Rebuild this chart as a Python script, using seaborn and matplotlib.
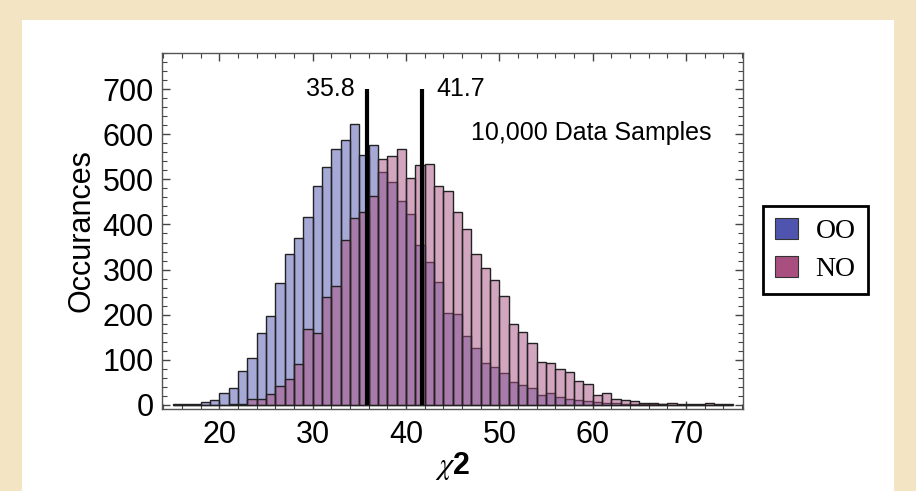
import numpy as np
import pandas as pd
import seaborn as sns
from matplotlib import pyplot as plt
from matplotlib.patches import Patch, Rectangle
from matplotlib.ticker import MultipleLocator

# chi^2 histogram, 10,000 samples per hypothesis, unit-width bins from 15 to 75
bin_starts = list(range(15, 75))

oo_counts = [1, 2, 1, 7, 10, 27, 37, 76, 104, 160,
             198, 270, 334, 371, 416, 486, 527, 568, 588, 623,
             554, 576, 516, 494, 451, 423, 354, 316, 272, 204,
             202, 152, 126, 92, 84, 70, 51, 45, 37, 21,
             26, 17, 14, 12, 9, 7, 5, 4, 3, 2,
             2, 1, 1, 0, 0, 0, 0, 0, 0, 0]

no_counts = [0, 0, 0, 0, 0, 0, 1, 1, 14, 14,
             24, 41, 57, 90, 169, 159, 239, 263, 365, 415,
             427, 463, 544, 552, 568, 504, 531, 534, 485, 474,
             427, 390, 334, 304, 278, 241, 180, 162, 137, 95,
             92, 79, 72, 54, 46, 22, 26, 13, 10, 8,
             5, 4, 1, 4, 2, 2, 2, 4, 2, 1]

labels = ['OO', 'NO']
base_colors = ['#4f55ae', '#a94f80']
cut_values = [35.8, 41.7]

df = pd.DataFrame({
    'chi2': [b + 0.5 for b in bin_starts] * 2,
    'count': oo_counts + no_counts,
    'hyp': ['OO'] * len(oo_counts) + ['NO'] * len(no_counts),
})

sns.set_style('ticks')
plt.rcParams['font.family'] = ['Liberation Sans', 'DejaVu Sans']
plt.rcParams['mathtext.fontset'] = 'stix'
plt.rcParams['text.color'] = 'black'
plt.rcParams['axes.labelcolor'] = 'black'
plt.rcParams['xtick.labelcolor'] = 'black'
plt.rcParams['ytick.labelcolor'] = 'black'

fig = plt.figure(figsize=(9.16, 4.91), dpi=100, facecolor='#f3e4c4')
# white panel on the parchment
fig.patches.append(Rectangle((22 / 916, 0), (894 - 22) / 916, (491 - 20) / 491,
                             transform=fig.transFigure, facecolor='white',
                             edgecolor='none', zorder=-1))
ax = fig.add_axes([162 / 916, 1 - 409 / 491, (743 - 162) / 916, (409 - 53) / 491])
ax.set_facecolor('white')

sns.histplot(data=df, x='chi2', weights='count', hue='hyp',
             binwidth=1, binrange=(15, 75),
             hue_order=['NO', 'OO'], palette=dict(zip(labels, base_colors)),
             alpha=0.5, edgecolor='#222222', linewidth=1.0, legend=False, ax=ax)

ax.vlines(cut_values, 0, 700, color='black', linewidth=3, zorder=5)
ax.text(cut_values[0] - 1.25, 700, '35.8', ha='right', va='center', fontsize=18)
ax.text(cut_values[1] + 1.6, 700, '41.7', ha='left', va='center', fontsize=18)
ax.text(59.8, 602, '10,000 Data Samples', ha='center', va='center', fontsize=18)

ax.set_xlim(13.85, 76.1)
ax.set_ylim(-9, 780)
ax.xaxis.set_major_locator(MultipleLocator(10))
ax.xaxis.set_minor_locator(MultipleLocator(2))
ax.yaxis.set_major_locator(MultipleLocator(100))
ax.yaxis.set_minor_locator(MultipleLocator(20))
ax.tick_params(which='both', direction='in', top=True, right=True,
               color='#444444', labelsize=22)
ax.tick_params(axis='x', pad=8)
ax.tick_params(axis='y', pad=6)
ax.tick_params(which='major', length=6, width=1)
ax.tick_params(which='minor', length=3.5, width=0.8)
for sp in ax.spines.values():
    sp.set_color('#555555')
    sp.set_linewidth(1)

ax.set_ylabel('Occurances', fontsize=22, labelpad=4)
ax.set_xlabel(r'$\chi$2', fontsize=22, fontweight='bold', labelpad=0)

handles = [Patch(facecolor=c, edgecolor='#333333', linewidth=0.8) for c in base_colors]
leg = fig.legend(handles, labels, loc='center', bbox_to_anchor=(0.8903, 0.4908),
                 frameon=True, fancybox=False, edgecolor='black', framealpha=1,
                 prop={'family': 'Liberation Serif', 'size': 20},
                 handlelength=0.8, handleheight=0.8, handletextpad=0.65,
                 labelspacing=0.4, borderpad=0.45)
leg.get_frame().set_linewidth(2)

plt.savefig('out.png', dpi=100, facecolor=fig.get_facecolor())
